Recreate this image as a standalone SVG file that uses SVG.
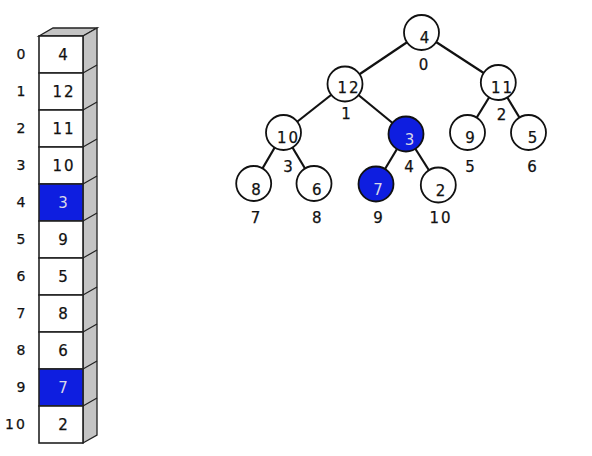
<svg xmlns="http://www.w3.org/2000/svg" width="592" height="456" viewBox="0 0 592 456">
<style>
text{font-family:"DejaVu Sans",Verdana,sans-serif;font-size:15px;fill:#111;stroke:#111;stroke-width:0.25;text-anchor:middle}
.idx{font-size:14px}
.md{letter-spacing:2px}
.cell{fill:#fff;stroke:#222;stroke-width:1.6}
.cell.hi{fill:#0e1ee0}
.side{fill:#c4c4c4;stroke:#222;stroke-width:1.3}
.bl{stroke:#222;stroke-width:1.2;fill:none}
.node{fill:#fff;stroke:#111;stroke-width:1.8}
.node.hi{fill:#0e1ee0}
text.w{fill:#d8d8e8;stroke:none}
#edges line{stroke:#111;stroke-width:2.2}
</style>
<rect width="592" height="456" fill="#fff"/>
<g id="array">
<polygon class="side" points="39,36 53,28 97,28 83,36"/>
<polygon class="side" points="83,36 97,28 97,435 83,443"/>
<path class="bl" d="M83,73 L97,65 M83,110 L97,102 M83,147 L97,139 M83,184 L97,176 M83,221 L97,213 M83,258 L97,250 M83,295 L97,287 M83,332 L97,324 M83,369 L97,361 M83,406 L97,398"/>
<g id="cell0"><rect class="cell" x="39" y="36" width="44" height="37"/><text x="63" y="60">4</text><text class="idx" x="21" y="59">0</text></g>
<g id="cell1"><rect class="cell" x="39" y="73" width="44" height="37"/><text class="md" x="64" y="97">12</text><text class="idx" x="21" y="96">1</text></g>
<g id="cell2"><rect class="cell" x="39" y="110" width="44" height="37"/><text class="md" x="64" y="134">11</text><text class="idx" x="21" y="133">2</text></g>
<g id="cell3"><rect class="cell" x="39" y="147" width="44" height="37"/><text class="md" x="64" y="171">10</text><text class="idx" x="21" y="170">3</text></g>
<g id="cell4"><rect class="cell hi" x="39" y="184" width="44" height="37"/><text class="w" x="63" y="208">3</text><text class="idx" x="21" y="207">4</text></g>
<g id="cell5"><rect class="cell" x="39" y="221" width="44" height="37"/><text x="63" y="245">9</text><text class="idx" x="21" y="244">5</text></g>
<g id="cell6"><rect class="cell" x="39" y="258" width="44" height="37"/><text x="63" y="282">5</text><text class="idx" x="21" y="281">6</text></g>
<g id="cell7"><rect class="cell" x="39" y="295" width="44" height="37"/><text x="63" y="319">8</text><text class="idx" x="21" y="318">7</text></g>
<g id="cell8"><rect class="cell" x="39" y="332" width="44" height="37"/><text x="63" y="356">6</text><text class="idx" x="21" y="355">8</text></g>
<g id="cell9"><rect class="cell hi" x="39" y="369" width="44" height="37"/><text class="w" x="63" y="393">7</text><text class="idx" x="21" y="392">9</text></g>
<g id="cell10"><rect class="cell" x="39" y="406" width="44" height="37"/><text x="63" y="430">2</text><text class="idx md" x="16" y="429">10</text></g>
</g>
<g id="edges">
<line x1="421.5" y1="32.5" x2="345" y2="84"/>
<line x1="421.5" y1="32.5" x2="498.3" y2="82.5"/>
<line x1="345" y1="84" x2="283.5" y2="132.5"/>
<line x1="345" y1="84" x2="406" y2="134"/>
<line x1="498.3" y1="82.5" x2="467.5" y2="132.5"/>
<line x1="498.3" y1="82.5" x2="528.5" y2="132.5"/>
<line x1="283.5" y1="132.5" x2="253.7" y2="183.5"/>
<line x1="283.5" y1="132.5" x2="314" y2="183.5"/>
<line x1="406" y1="134" x2="376" y2="184"/>
<line x1="406" y1="134" x2="438.3" y2="185"/>
</g>
<g id="n0"><circle class="node" cx="421.5" cy="32.5" r="17.5"/><text x="424.5" y="43">4</text><text x="423.5" y="70">0</text></g>
<g id="n1"><circle class="node" cx="345" cy="84" r="17.5"/><text class="md" x="349" y="93">12</text><text x="346" y="119">1</text></g>
<g id="n2"><circle class="node" cx="498.3" cy="82.5" r="17.5"/><text class="md" x="502.5" y="93">11</text><text x="501.5" y="120">2</text></g>
<g id="n3"><circle class="node" cx="283.5" cy="132.5" r="17.5"/><text class="md" x="288.5" y="143">10</text><text x="288" y="172">3</text></g>
<g id="n4"><circle class="node hi" cx="406" cy="134" r="17.5"/><text class="w" x="409.5" y="145">3</text><text x="409" y="172">4</text></g>
<g id="n5"><circle class="node" cx="467.5" cy="132.5" r="17.5"/><text x="470" y="143">9</text><text x="470" y="172">5</text></g>
<g id="n6"><circle class="node" cx="528.5" cy="132.5" r="17.5"/><text x="532.5" y="143">5</text><text x="532" y="172">6</text></g>
<g id="n7"><circle class="node" cx="253.7" cy="183.5" r="17.5"/><text x="256" y="195">8</text><text x="255.5" y="223">7</text></g>
<g id="n8"><circle class="node" cx="314" cy="183.5" r="17.5"/><text x="316.7" y="195">6</text><text x="316.7" y="223">8</text></g>
<g id="n9"><circle class="node hi" cx="376" cy="184" r="17.5"/><text class="w" x="378" y="195">7</text><text x="378" y="223">9</text></g>
<g id="n10"><circle class="node" cx="438.3" cy="185" r="17.5"/><text x="440.5" y="196">2</text><text class="md" x="441" y="223">10</text></g>
</svg>
